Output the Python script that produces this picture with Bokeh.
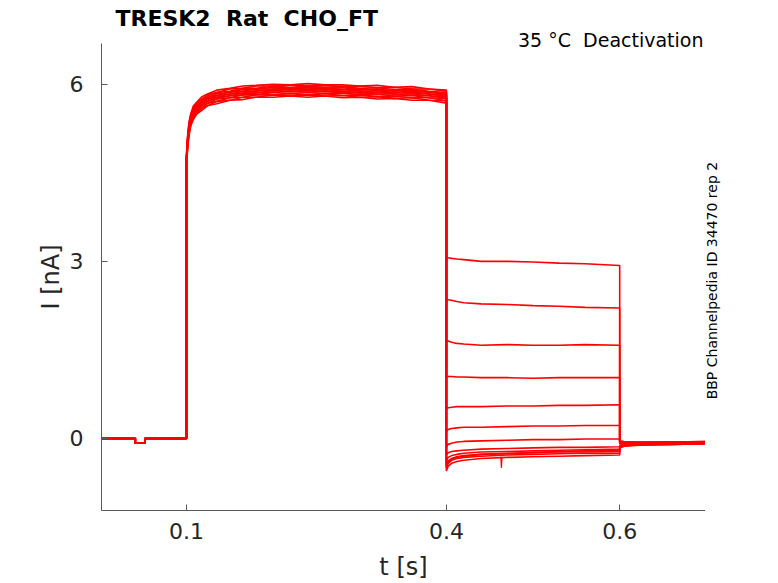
import math
from bokeh.plotting import figure
from bokeh.layouts import row
from bokeh.models import Range1d, FixedTicker, Label, ColumnDataSource, Title
from bokeh.embed import file_html
from bokeh.resources import INLINE

# ---------------- data ----------------
TITLE = "TRESK2\u00a0 Rat\u00a0 CHO_FT"
SUBTITLE = "35 \u00b0C\u00a0 Deactivation"
SIDE_NOTE = "BBP Channelpedia ID 34470 rep 2"
X_TICKS = [0.1, 0.4, 0.6]
X_TICK_LABELS = ["0.1", "0.4", "0.6"]
Y_TICKS = [0, 3, 6]
Y_TICK_LABELS = ["0", "3", "6"]

# holding segment (identical for all sweeps)
T_PRE = [0.0, 0.041, 0.041, 0.052, 0.052, 0.1]
I_PRE = [0.0, 0.0, -0.08, -0.08, 0.0, 0.0]

# activation step 0.1 - 0.4 s
T_ACT = [0.1, 0.1015, 0.103, 0.105, 0.108, 0.112, 0.118, 0.125, 0.135, 0.15,
         0.165, 0.18, 0.2, 0.22, 0.24, 0.26, 0.28, 0.3, 0.32, 0.34, 0.36, 0.38, 0.4]
ACT_A = [4.80, 5.15, 5.36, 5.50, 5.63, 5.70, 5.79, 5.84, 5.90, 5.93, 5.97, 5.98, 6.00, 5.99, 6.01, 5.99, 5.99, 5.97, 5.98, 5.95, 5.96, 5.92, 5.90]
ACT_B = [4.78, 5.12, 5.34, 5.47, 5.61, 5.68, 5.75, 5.83, 5.86, 5.92, 5.93, 5.97, 5.97, 5.99, 5.97, 5.98, 5.96, 5.97, 5.94, 5.95, 5.92, 5.92, 5.88]
ACT_C = [4.76, 5.11, 5.30, 5.47, 5.57, 5.67, 5.73, 5.80, 5.86, 5.88, 5.93, 5.93, 5.97, 5.95, 5.97, 5.95, 5.96, 5.93, 5.94, 5.91, 5.92, 5.88, 5.86]
ACT_D = [4.74, 5.09, 5.30, 5.43, 5.57, 5.63, 5.73, 5.77, 5.84, 5.86, 5.91, 5.91, 5.95, 5.93, 5.95, 5.93, 5.94, 5.91, 5.92, 5.89, 5.90, 5.86, 5.85]
ACT_E = [4.73, 5.08, 5.27, 5.44, 5.54, 5.64, 5.70, 5.78, 5.81, 5.87, 5.88, 5.92, 5.92, 5.94, 5.92, 5.94, 5.91, 5.92, 5.89, 5.90, 5.87, 5.87, 5.82]
ACT_F = [4.71, 5.06, 5.27, 5.40, 5.54, 5.60, 5.70, 5.74, 5.81, 5.83, 5.88, 5.88, 5.92, 5.90, 5.92, 5.90, 5.91, 5.88, 5.89, 5.86, 5.87, 5.83, 5.82]
ACT_G = [4.70, 5.05, 5.24, 5.41, 5.51, 5.61, 5.67, 5.75, 5.78, 5.84, 5.85, 5.89, 5.89, 5.91, 5.89, 5.91, 5.88, 5.89, 5.86, 5.87, 5.84, 5.84, 5.79]
ACT_H = [4.68, 5.03, 5.24, 5.37, 5.51, 5.57, 5.67, 5.71, 5.78, 5.80, 5.85, 5.85, 5.89, 5.87, 5.89, 5.87, 5.88, 5.85, 5.86, 5.83, 5.84, 5.80, 5.79]
ACT_I = [4.67, 5.02, 5.21, 5.38, 5.48, 5.58, 5.64, 5.72, 5.75, 5.81, 5.82, 5.86, 5.86, 5.88, 5.86, 5.88, 5.85, 5.86, 5.83, 5.84, 5.81, 5.81, 5.76]
ACT_J = [4.65, 5.00, 5.21, 5.34, 5.48, 5.54, 5.64, 5.68, 5.75, 5.77, 5.82, 5.82, 5.86, 5.84, 5.86, 5.84, 5.85, 5.82, 5.83, 5.80, 5.81, 5.77, 5.76]
ACT_K = [4.63, 4.98, 5.17, 5.34, 5.44, 5.54, 5.60, 5.68, 5.71, 5.77, 5.78, 5.82, 5.82, 5.84, 5.82, 5.84, 5.81, 5.82, 5.79, 5.80, 5.77, 5.77, 5.72]
ACT_L = [4.61, 4.96, 5.17, 5.30, 5.44, 5.50, 5.60, 5.64, 5.71, 5.73, 5.78, 5.78, 5.82, 5.80, 5.82, 5.80, 5.81, 5.78, 5.79, 5.76, 5.77, 5.73, 5.72]
ACT_M = [4.59, 4.94, 5.13, 5.30, 5.40, 5.50, 5.56, 5.64, 5.67, 5.73, 5.74, 5.78, 5.78, 5.80, 5.78, 5.80, 5.77, 5.78, 5.75, 5.76, 5.73, 5.73, 5.68]

# deactivation tails 0.4 - 0.6 s
T_TAIL = [0.4, 0.402, 0.406, 0.412, 0.42, 0.44, 0.47, 0.5, 0.53, 0.56, 0.6]
TAIL_A = [3.07, 3.06, 3.05, 3.04, 3.03, 3.00, 3.00, 2.99, 2.97, 2.96, 2.93]
TAIL_B = [2.36, 2.35, 2.34, 2.32, 2.30, 2.28, 2.27, 2.25, 2.24, 2.22, 2.21]
TAIL_C = [1.66, 1.65, 1.63, 1.61, 1.60, 1.58, 1.59, 1.58, 1.58, 1.59, 1.58]
TAIL_D = [1.06, 1.05, 1.05, 1.04, 1.04, 1.03, 1.03, 1.02, 1.03, 1.03, 1.03]
TAIL_E = [0.50, 0.52, 0.53, 0.54, 0.54, 0.54, 0.55, 0.55, 0.56, 0.56, 0.57]
TAIL_F = [0.12, 0.15, 0.17, 0.18, 0.19, 0.19, 0.20, 0.21, 0.21, 0.22, 0.22]
TAIL_G = [-0.14, -0.10, -0.08, -0.06, -0.05, -0.04, -0.03, -0.02, -0.02, -0.01, -0.01]
TAIL_H = [-0.28, -0.24, -0.22, -0.21, -0.20, -0.18, -0.17, -0.16, -0.15, -0.15, -0.14]
TAIL_I = [-0.38, -0.32, -0.29, -0.27, -0.25, -0.23, -0.22, -0.21, -0.20, -0.19, -0.18]
TAIL_J = [-0.45, -0.38, -0.34, -0.31, -0.29, -0.27, -0.26, -0.24, -0.23, -0.23, -0.22]
TAIL_K = [-0.50, -0.42, -0.37, -0.34, -0.32, -0.30, -0.28, -0.27, -0.26, -0.25, -0.25]
TAIL_L = [-0.55, -0.47, -0.42, -0.39, -0.37, -0.34, -0.32, -0.31, -0.30, -0.29, -0.28]
TAIL_M = [-0.48, -0.40, -0.35, -0.32, -0.30, -0.27, -0.25, -0.24, -0.22, -0.21, -0.20]

# return to holding 0.6 - 0.7 s
T_POST = [0.6, 0.601, 0.605, 0.615, 0.63, 0.66, 0.699]
POST_A = [-0.03, -0.04, -0.05, -0.06, -0.06, -0.06, -0.05]
POST_B = [-0.04, -0.05, -0.06, -0.06, -0.07, -0.06, -0.05]
POST_C = [-0.05, -0.06, -0.06, -0.07, -0.07, -0.06, -0.06]
POST_D = [-0.06, -0.07, -0.07, -0.07, -0.07, -0.07, -0.06]
POST_E = [-0.07, -0.07, -0.08, -0.08, -0.07, -0.07, -0.06]
POST_F = [-0.08, -0.08, -0.08, -0.08, -0.08, -0.07, -0.07]
POST_G = [-0.09, -0.09, -0.09, -0.08, -0.08, -0.08, -0.07]
POST_H = [-0.12, -0.11, -0.10, -0.09, -0.09, -0.08, -0.08]
POST_I = [-0.13, -0.12, -0.11, -0.10, -0.09, -0.09, -0.08]
POST_J = [-0.15, -0.13, -0.12, -0.11, -0.10, -0.09, -0.09]
POST_K = [-0.16, -0.14, -0.13, -0.11, -0.10, -0.10, -0.09]
POST_L = [-0.18, -0.15, -0.13, -0.12, -0.11, -0.10, -0.09]
POST_M = [-0.17, -0.15, -0.13, -0.12, -0.11, -0.10, -0.09]

# brief artefact on one sweep
T_SPIKE = [0.4628, 0.4635, 0.4642]
I_SPIKE = [-0.31, -0.50, -0.31]

ACTS = [ACT_A, ACT_B, ACT_C, ACT_D, ACT_E, ACT_F, ACT_G, ACT_H, ACT_I, ACT_J, ACT_K, ACT_L, ACT_M]
TAILS = [TAIL_A, TAIL_B, TAIL_C, TAIL_D, TAIL_E, TAIL_F, TAIL_G, TAIL_H, TAIL_I, TAIL_J, TAIL_K, TAIL_L, TAIL_M]
POSTS = [POST_A, POST_B, POST_C, POST_D, POST_E, POST_F, POST_G, POST_H, POST_I, POST_J, POST_K, POST_L, POST_M]

# ---------------- styling ----------------
FONT = "DejaVu Sans"
TXT = "#262626"
AXC = "#5a5a5a"
RED = "#ff0000"
W, H = 778, 583
SIDE_W = 73         # band right of the axes holding the vertical note

# main axes (title rows live in its "above" panel)
p = figure(width=W - SIDE_W, height=H, output_backend="svg", toolbar_location=None, title=None,
           x_range=Range1d(0.002, 0.699), y_range=Range1d(-1.22, 6.69),
           min_border_left=101, min_border_right=0, min_border_top=0, min_border_bottom=71)
p.outline_line_color = None
p.grid.visible = False

sub = Title(text=SUBTITLE, align="right", offset=2, vertical_align="bottom",
            text_font=FONT, text_font_size="19px", text_font_style="normal", text_color="black")
main = Title(text=TITLE, align="left", offset=14, vertical_align="bottom",
             text_font=FONT, text_font_size="22px", text_font_style="bold", text_color="black")
sub.standoff = -15
main.standoff = 7.4
p.add_layout(sub, "above")
p.add_layout(main, "above")

xs = [T_PRE + T_ACT + T_TAIL + T_POST for _ in ACTS]
ys = [I_PRE + a + t + q for a, t, q in zip(ACTS, TAILS, POSTS)]
src = ColumnDataSource(data=dict(xs=xs, ys=ys))
p.multi_line("xs", "ys", source=src, line_color=RED, line_width=1.6)
p.line(T_SPIKE, I_SPIKE, line_color=RED, line_width=1.2)

for ax in (p.xaxis[0], p.yaxis[0]):
    ax.axis_line_color = AXC
    ax.major_tick_line_color = AXC
    ax.major_tick_in = 6
    ax.major_tick_out = 0
    ax.minor_tick_line_color = None
    ax.major_label_text_font = FONT
    ax.major_label_text_font_size = "22px"
    ax.major_label_text_color = TXT
    ax.axis_label_text_font = FONT
    ax.axis_label_text_font_size = "24px"
    ax.axis_label_text_font_style = "normal"
    ax.axis_label_text_color = TXT

p.xaxis.ticker = FixedTicker(ticks=X_TICKS)
p.xaxis.major_label_overrides = dict(zip(X_TICKS, X_TICK_LABELS))
p.yaxis.ticker = FixedTicker(ticks=Y_TICKS)
p.yaxis.major_label_overrides = dict(zip(Y_TICKS, Y_TICK_LABELS))
p.xaxis.axis_label = "t [s]"
p.yaxis.axis_label = "I [nA]"
p.xaxis.major_label_standoff = 12
p.yaxis.major_label_standoff = 18
p.xaxis.axis_label_standoff = 11
p.yaxis.axis_label_standoff = 2

# vertical note band
side = figure(width=SIDE_W, height=H, output_backend="svg", toolbar_location=None,
              x_range=Range1d(0, SIDE_W), y_range=Range1d(0, H),
              min_border=0, x_axis_type=None, y_axis_type=None)
side.outline_line_color = None
side.grid.visible = False
side.add_layout(Label(x=6, y=287, text=SIDE_NOTE, text_font=FONT,
                      text_font_size="14px", text_color="black", text_align="center",
                      text_baseline="alphabetic", angle=math.pi / 2))

layout = row(p, side, spacing=0)
open("out.html", "w").write(file_html(layout, INLINE))
